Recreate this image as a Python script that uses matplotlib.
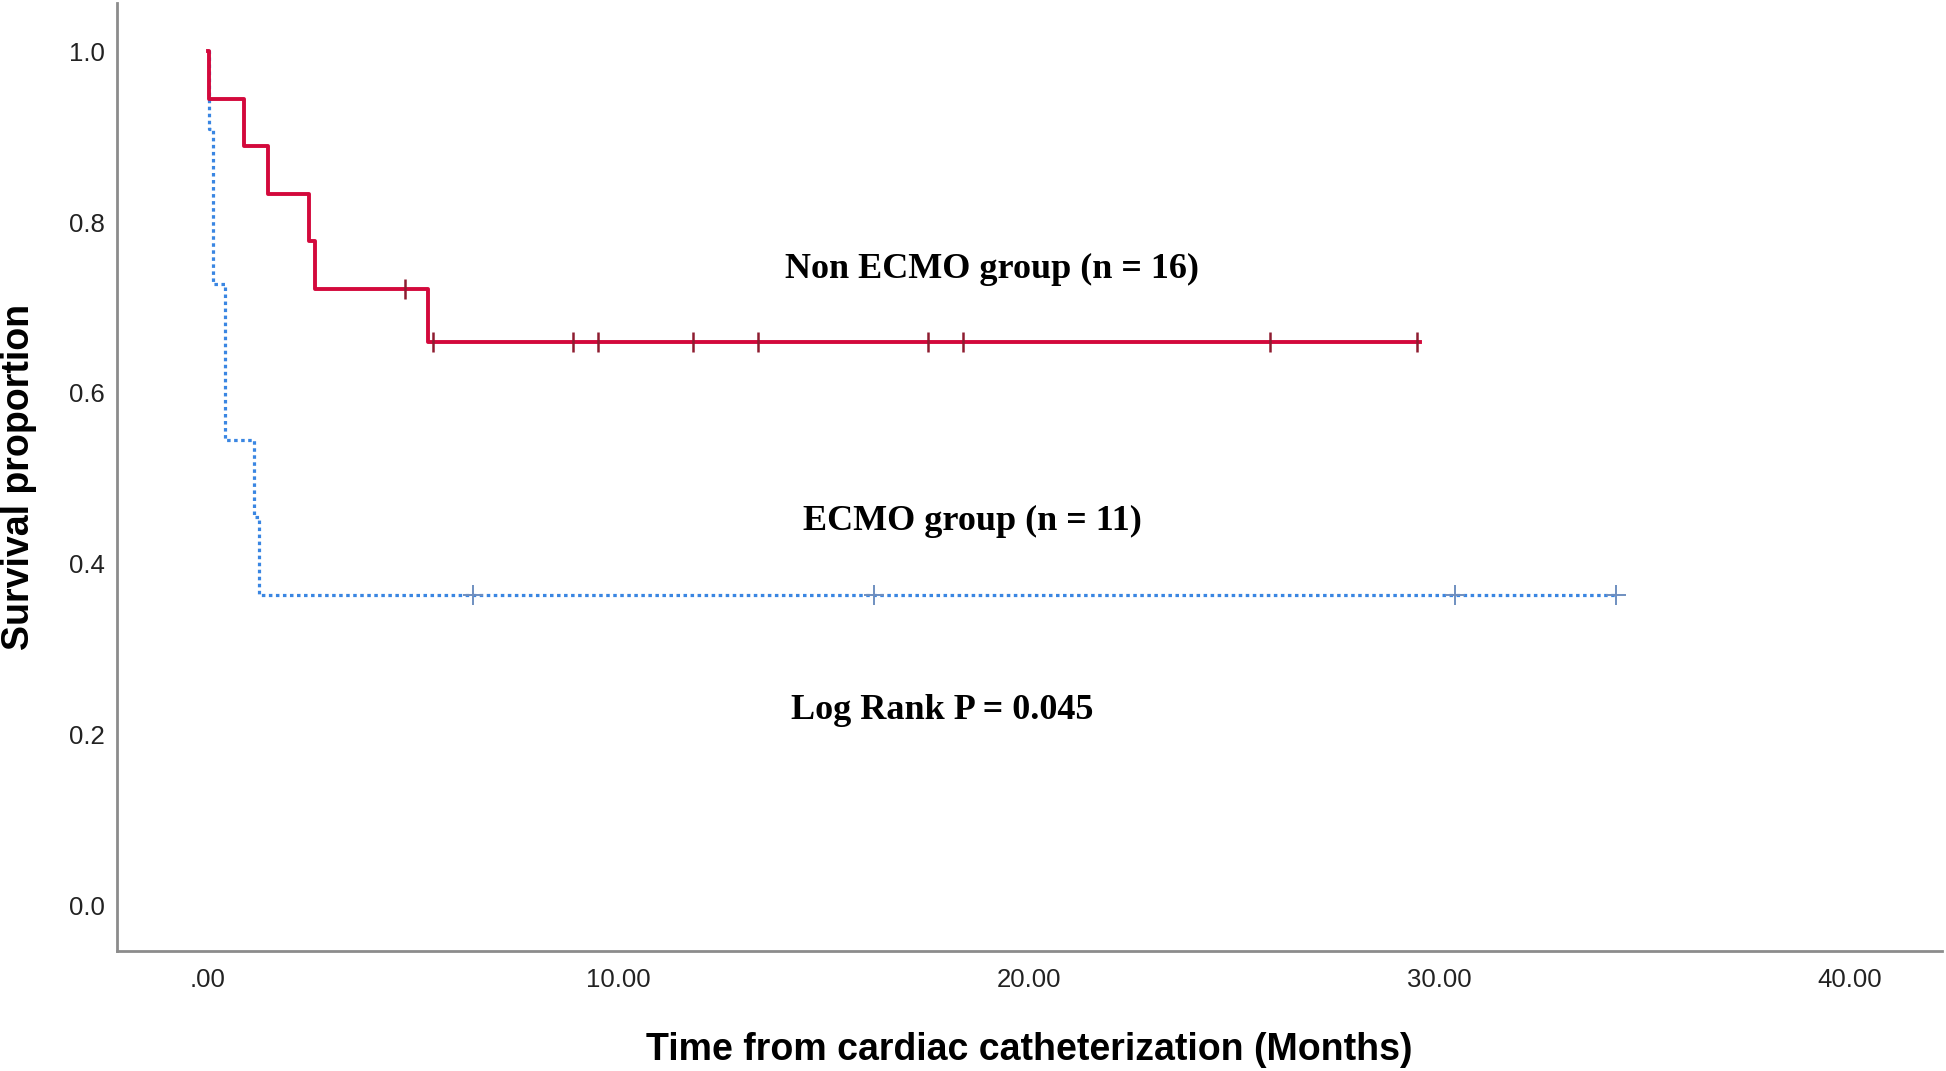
import matplotlib
matplotlib.use("Agg")
import matplotlib.pyplot as plt

# Non ECMO group: step curve (event times, survival after event) and censored times
non_ecmo_t = [0.0, 0.04, 0.89, 1.47, 2.47, 2.62, 5.38, 29.55]
non_ecmo_s = [1.0, 0.944, 0.889, 0.833, 0.778, 0.722, 0.660, 0.660]
non_ecmo_cens_t = [4.81, 5.50, 8.89, 9.50, 11.83, 13.40, 17.55, 18.40, 25.88, 29.46]
non_ecmo_cens_s = [0.722, 0.660, 0.660, 0.660, 0.660, 0.660, 0.660, 0.660, 0.660, 0.660]

# ECMO group
ecmo_t = [0.0, 0.04, 0.13, 0.42, 1.13, 1.24, 34.31]
ecmo_s = [1.0, 0.909, 0.727, 0.545, 0.455, 0.364, 0.364]
ecmo_cens_t = [6.47, 16.24, 30.38, 34.31]
ecmo_cens_s = [0.364, 0.364, 0.364, 0.364]

xticks = [0, 10, 20, 30, 40]
xtick_labels = [".00", "10.00", "20.00", "30.00", "40.00"]
yticks = [0.0, 0.2, 0.4, 0.6, 0.8, 1.0]
ytick_labels = ["0.0", "0.2", "0.4", "0.6", "0.8", "1.0"]

RED = "#d3093c"
RED_CENS = "#8e1c30"
BLUE = "#3a86e2"
BLUE_CENS = "#6f8fc0"
SPINE = "#8c8c8c"

fig = plt.figure(figsize=(19.46, 10.71), dpi=100)
ax = fig.add_axes([0.0601, 0.112, 0.9379, 0.885])
ax.set_xlim(-2.21, 42.26)
ax.set_ylim(-0.053, 1.056)

ax.step(ecmo_t, ecmo_s, where="post", color=BLUE, lw=2.3,
        linestyle=(0, (1.1, 1.1)), zorder=2)
ax.plot(ecmo_cens_t, ecmo_cens_s, "+", color=BLUE_CENS, ms=14, mew=1.4, zorder=3)

ax.step(non_ecmo_t, non_ecmo_s, where="post", color=RED, lw=2.8, zorder=4)
ax.plot(non_ecmo_cens_t, non_ecmo_cens_s, "|", color=RED_CENS, ms=14, mew=1.8, zorder=5)

ax.text(19.12, 0.745, "Non ECMO group (n = 16)", family="Liberation Serif",
        fontweight="bold", fontsize=26, ha="center", va="center")
ax.text(18.64, 0.450, "ECMO group (n = 11)", family="Liberation Serif",
        fontweight="bold", fontsize=26, ha="center", va="center")
ax.text(17.9, 0.228, "Log Rank P = 0.045", family="Liberation Serif",
        fontweight="bold", fontsize=26, ha="center", va="center")

ax.set_xticks(xticks)
ax.set_xticklabels(xtick_labels, family="Liberation Sans", fontsize=18.5, color="#222222")
ax.set_yticks(yticks)
ax.set_yticklabels(ytick_labels, family="Liberation Sans", fontsize=18.5, color="#222222")
ax.tick_params(axis="x", length=0, pad=12)
ax.tick_params(axis="y", length=0, pad=9)

ax.set_xlabel("Time from cardiac catheterization (Months)", family="Liberation Sans",
              fontweight="bold", fontsize=27)
ax.set_ylabel("Survival proportion", family="Liberation Sans", fontweight="bold",
              fontsize=27)
ax.xaxis.label.set_va("center")
ax.yaxis.label.set_va("center")
ax.xaxis.set_label_coords(0.5, -0.104)
ax.yaxis.set_label_coords(-0.0537, 0.5)

for side in ["top", "right"]:
    ax.spines[side].set_visible(False)
for side in ["left", "bottom"]:
    ax.spines[side].set_color(SPINE)
    ax.spines[side].set_linewidth(2)

fig.savefig("out.png", dpi=100)
